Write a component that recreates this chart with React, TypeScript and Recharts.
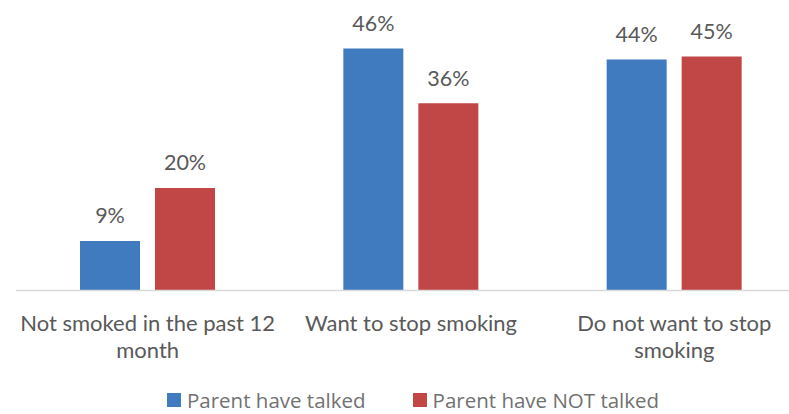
import { BarChart, Bar, XAxis, YAxis, Legend, LabelList } from "recharts";

const categories = ["Not smoked in the past 12\nmonth", "Want to stop smoking", "Do not want to stop\nsmoking"];
const talked = [9.4, 46, 43.9];
const notTalked = [19.5, 35.6, 44.5];
const seriesNames = ["Parent have talked", "Parent have NOT talked"];
const colors = ["#3F7BBE", "#C14646"];

const data = categories.map((name, i) => ({ name, talked: talked[i], notTalked: notTalked[i] }));

const labelFont = "Lato, 'Open Sans', sans-serif";

const CategoryTick = (props: any) => {
  const { x, y, payload } = props;
  const lines = String(payload.value).split("\n");
  return (
    <text x={x} y={y} textAnchor="middle" fill="#595959" fontSize={22} fontFamily={labelFont}>
      {lines.map((line, i) => (
        <tspan key={i} x={x} dy={i === 0 ? 40.5 : 27}>
          {line}
        </tspan>
      ))}
    </text>
  );
};

const LegendContent = () => (
  <div style={{ display: "flex", alignItems: "center", fontFamily: "'Open Sans', sans-serif", fontSize: 20.5, color: "#717171", height: 20 }}>
    {seriesNames.map((n, i) => (
      <div key={n} style={{ display: "flex", alignItems: "center", marginRight: i === 0 ? 47 : 0 }}>
        <span style={{ width: 14, height: 14, background: colors[i], marginRight: 6, display: "inline-block" }} />
        <span style={{ lineHeight: "20px" }}>{n}</span>
      </div>
    ))}
  </div>
);

export default function App() {
  return (
    <div style={{ position: "absolute", left: 0, top: 0, width: 789, height: 414, overflow: "hidden", background: "#fff" }}>
      <BarChart
        width={810}
        height={414}
        data={data}
        margin={{ top: 27.5, right: 4, left: 16, bottom: 0 }}
        barSize={60}
        barGap={15}
      >
        <YAxis hide domain={[0, 50]} />
        <XAxis
          dataKey="name"
          height={123.5}
          axisLine={{ stroke: "#D9D9D9", strokeWidth: 1.5 }}
          tickLine={false}
          tickSize={0}
          tickMargin={0}
          interval={0}
          tick={<CategoryTick />}
        />
        <Legend
          verticalAlign="middle"
          align="center"
          layout="horizontal"
          wrapperStyle={{ top: 390, left: 167, width: 560 }}
          content={<LegendContent />}
        />
        {(["talked", "notTalked"] as const).map((key, i) => (
          <Bar key={key} dataKey={key} name={seriesNames[i]} fill={colors[i]} isAnimationActive={false}>
            <LabelList
              dataKey={key}
              position="top"
              offset={17.6}
              formatter={(v: any) => `${Math.round(Number(v))}%`}
              fill="#595959"
              fontSize={21.5}
              fontFamily={labelFont}
            />
          </Bar>
        ))}
      </BarChart>
    </div>
  );
}
